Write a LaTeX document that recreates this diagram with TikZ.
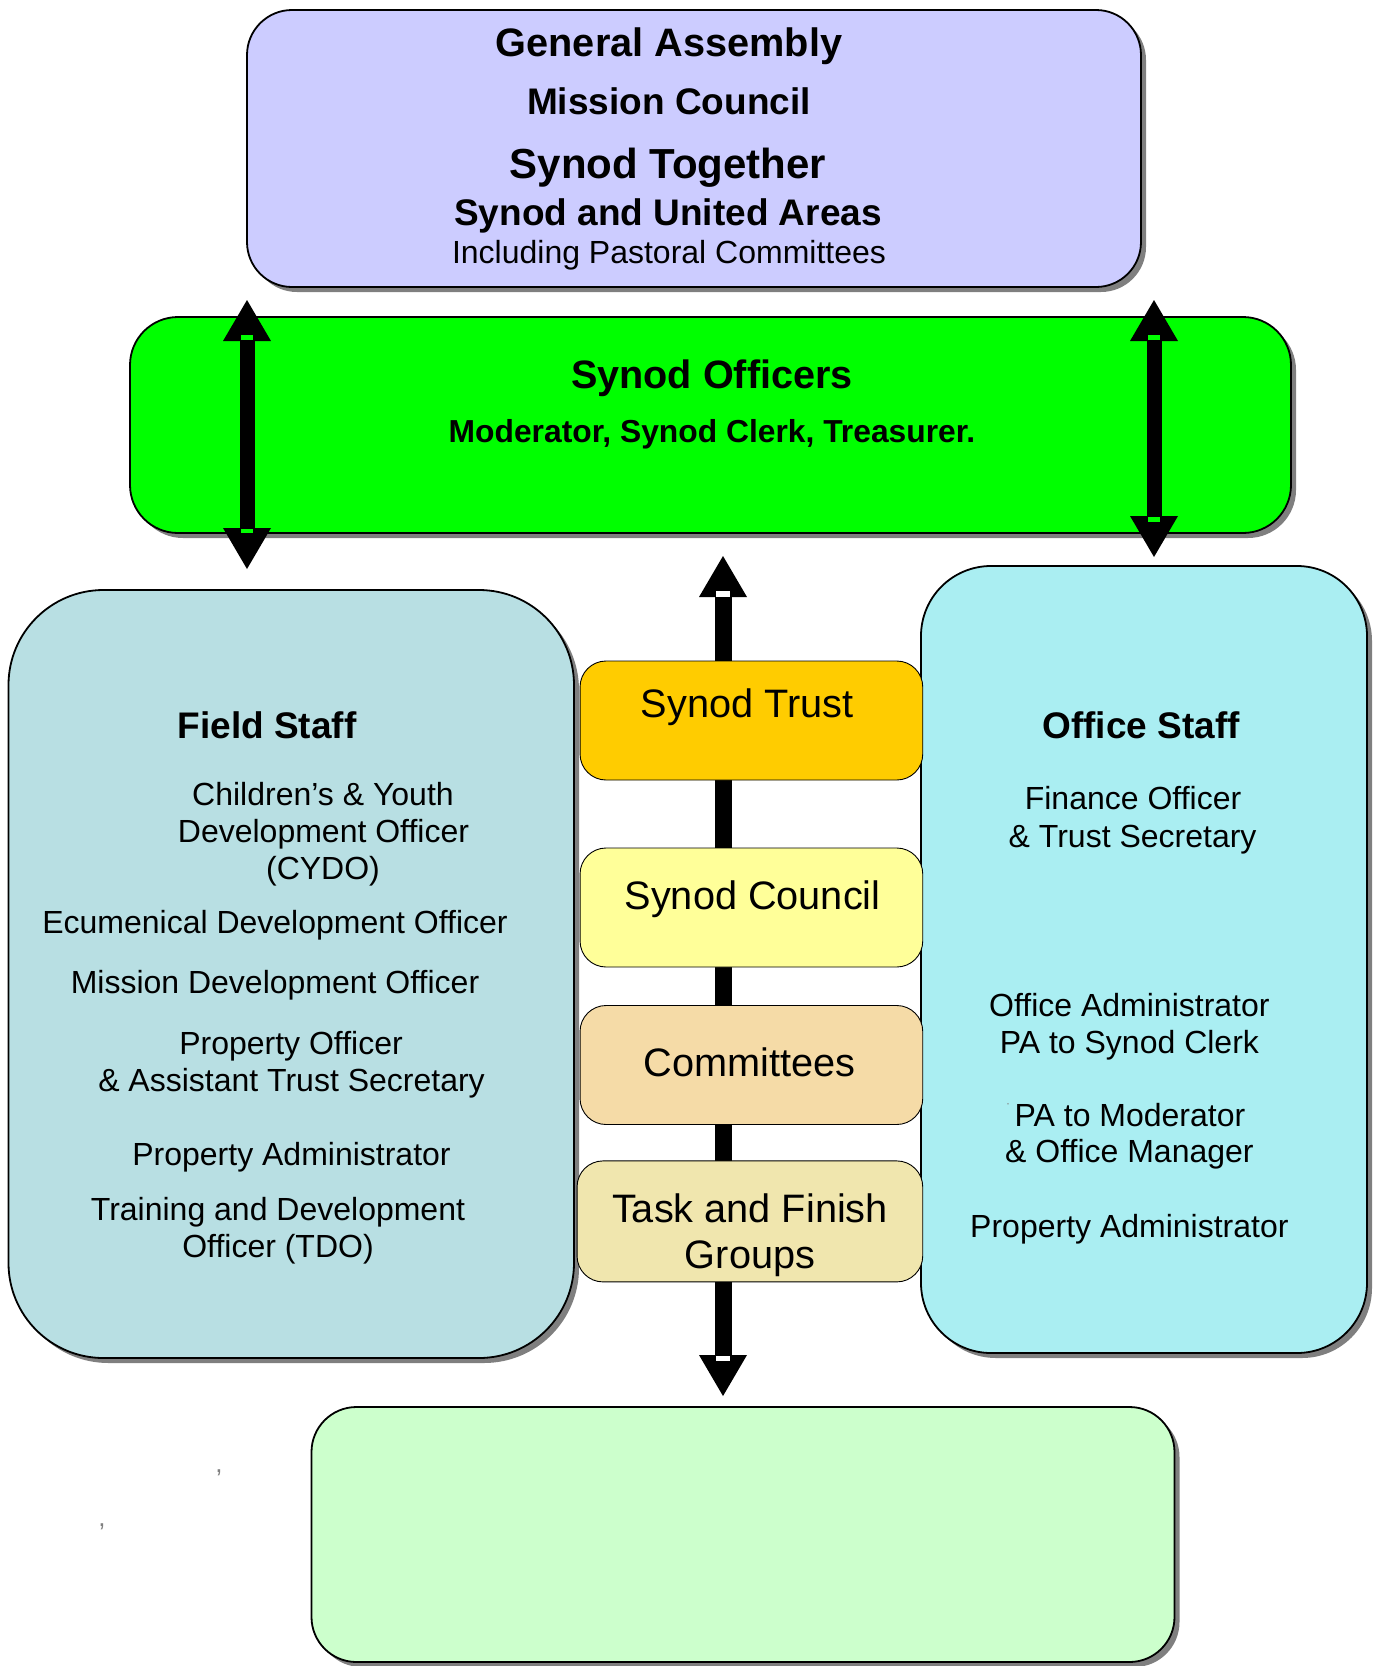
\documentclass[tikz,border=0pt]{standalone}
\usepackage{fontspec}
\setmainfont{Liberation Sans}
\usetikzlibrary{shadows}
\definecolor{purplefill}{HTML}{CCCCFF}
\definecolor{officersgreen}{HTML}{00FF00}
\definecolor{fieldfill}{HTML}{B8DFE3}
\definecolor{officefill}{HTML}{AAEEF2}
\definecolor{trustfill}{HTML}{FFCC00}
\definecolor{councilfill}{HTML}{FFFF99}
\definecolor{committeefill}{HTML}{F5DBA7}
\definecolor{taskfill}{HTML}{F0E6AE}
\definecolor{bottomfill}{HTML}{CCFFCC}
\definecolor{shadowgrey}{HTML}{7F7F7F}
\tikzset{
  bigbox/.style={draw=black, line width=1.8pt, rounded corners=#1, inner sep=0pt, outer sep=0pt,
    drop shadow={shadow xshift=5pt, shadow yshift=-5pt, fill=shadowgrey, opacity=1}},
  midbox/.style={draw=black, line width=0.9pt, rounded corners=26pt, inner sep=0pt, outer sep=0pt},
  txt/.style={anchor=base, inner sep=0pt, outer sep=0pt, text=black},
  regtxt/.style={txt, font=\fontsize{32}{37}\selectfont},
  titletxt/.style={txt, font=\fontsize{37}{42}\selectfont\bfseries},
  midtxt/.style={txt, font=\fontsize{39.7}{45}\selectfont},
  arrowfill/.style={fill=black},
}
\begin{document}
\begin{tikzpicture}[x=1pt,y=-1pt]
\useasboundingbox (0,0) rectangle (1378,1666);

% top box
\node[bigbox=45pt, fill=purplefill, minimum width=894pt, minimum height=277pt] (assembly) at (694,148.5) {};
\node[txt, font=\fontsize{39.7}{45}\selectfont\bfseries] (ga) at (669,56.5) {General Assembly};
\node[txt, font=\fontsize{37}{42}\selectfont\bfseries] (mc) at (669,114.5) {Mission Council};
\node[txt, font=\fontsize{42}{48}\selectfont\bfseries] (st) at (668,178.5) {Synod Together};
\node[txt, font=\fontsize{37}{42}\selectfont\bfseries] (sua) at (668,225.5) {Synod and United Areas};
\node[txt, font=\fontsize{32}{37}\selectfont] (ipc) at (669,263.5) {Including Pastoral Committees};

% synod officers
\node[bigbox=48pt, fill=officersgreen, minimum width=1161pt, minimum height=216pt] (officers) at (710.5,425) {};
\node[txt, font=\fontsize{39.6}{45}\selectfont\bfseries] (so) at (712,388) {Synod Officers};
\node[txt, font=\fontsize{31.8}{37}\selectfont\bfseries] (mst) at (712,442) {Moderator, Synod Clerk, Treasurer.};

% side double arrows
\fill[arrowfill] (223,341) -- (247,300) -- (271,341) -- cycle;
\fill[arrowfill] (239.5,341) rectangle (254.5,528);
\fill[arrowfill] (223,528) -- (271,528) -- (247,569) -- cycle;
\fill[officersgreen] (241,335) rectangle (253,340);
\fill[officersgreen] (241,529) rectangle (253,533);

\fill[arrowfill] (1130,341) -- (1154,300) -- (1178,341) -- cycle;
\fill[arrowfill] (1146.5,341) rectangle (1161.5,516);
\fill[arrowfill] (1130,516) -- (1178,516) -- (1154,557) -- cycle;
\fill[officersgreen] (1148,335) rectangle (1160,340);
\fill[officersgreen] (1148,516.5) rectangle (1160,521.5);

% field staff
\node[bigbox=95pt, fill=fieldfill, minimum width=565.5pt, minimum height=768pt] (field) at (291.25,974) {};
\node[titletxt] (fs) at (267,738) {Field Staff};
\node[regtxt] (f1) at (323,805.5) {Children’s \& Youth};
\node[regtxt] (f2) at (323.5,842.7) {Development Officer};
\node[regtxt] (f3) at (323,879.9) {(CYDO)};
\node[regtxt] (f4) at (275,933) {Ecumenical Development Officer};
\node[regtxt] (f5) at (275,993.5) {Mission Development Officer};
\node[regtxt] (f6) at (291,1054.5) {Property Officer};
\node[regtxt] (f7) at (291.5,1091.6) {\& Assistant Trust Secretary};
\node[regtxt] (f8) at (291.5,1165) {Property Administrator};
\node[regtxt] (f9) at (278,1220.5) {Training and Development};
\node[regtxt] (f10) at (278,1257.5) {Officer (TDO)};

% office staff
\node[bigbox=70pt, fill=officefill, minimum width=446pt, minimum height=787pt] (office) at (1144,959.5) {};
\node[titletxt] (os) at (1141,738) {Office Staff};
\node[regtxt] (o1) at (1133,809.7) {Finance Officer};
\node[regtxt] (o2) at (1132.6,847) {\& Trust Secretary};
\node[regtxt] (o3) at (1129.4,1016) {Office Administrator};
\node[regtxt] (o4) at (1129.4,1053) {PA to Synod Clerk};
\node[regtxt] (o5) at (1130,1126.5) {PA to Moderator};
\node[txt, font=\fontsize{12}{14}\selectfont, text=shadowgrey] (odot) at (1008,1107) {·};
\node[regtxt] (o6) at (1129.4,1162.8) {\& Office Manager};
\node[regtxt] (o7) at (1129.4,1237) {Property Administrator};

% centre arrow
\fill[arrowfill] (699,597) -- (723,556) -- (747,597) -- cycle;
\fill[arrowfill] (714.5,597) rectangle (731.5,1355);
\fill[arrowfill] (699,1355) -- (747,1355) -- (723,1396) -- cycle;
\fill[white] (716,591) rectangle (730,596.5);
\fill[white] (716,1355.5) rectangle (730,1361);

% centre boxes
\node[midbox, fill=trustfill, minimum width=342.7pt, minimum height=119pt] (trust) at (751.4,720.5) {};
\node[midtxt] (trustt) at (747,717.5) {Synod Trust};
\node[midbox, fill=councilfill, minimum width=342.7pt, minimum height=119pt] (council) at (751.4,907.5) {};
\node[midtxt] (councilt) at (752.6,909.5) {Synod Council};
\node[midbox, fill=committeefill, minimum width=342.7pt, minimum height=119pt] (committees) at (751.4,1065) {};
\node[midtxt] (committeest) at (749.4,1076.5) {Committees};
\node[midbox, fill=taskfill, minimum width=345.7pt, minimum height=121pt] (task) at (749.9,1221.4) {};
\node[midtxt] (taskt1) at (750,1222) {Task and Finish};
\node[midtxt] (taskt2) at (750,1268) {Groups};

% bottom box
\node[bigbox=45pt, fill=bottomfill, minimum width=863pt, minimum height=255pt] (bottom) at (743,1534.5) {};

% stray commas
\node[txt, font=\fontsize{26}{30}\selectfont, text=shadowgrey, anchor=center] (c1) at (219,1473) {,};
\node[txt, font=\fontsize{26}{30}\selectfont, text=shadowgrey, anchor=center] (c2) at (102,1526.5) {,};
\end{tikzpicture}
\end{document}
